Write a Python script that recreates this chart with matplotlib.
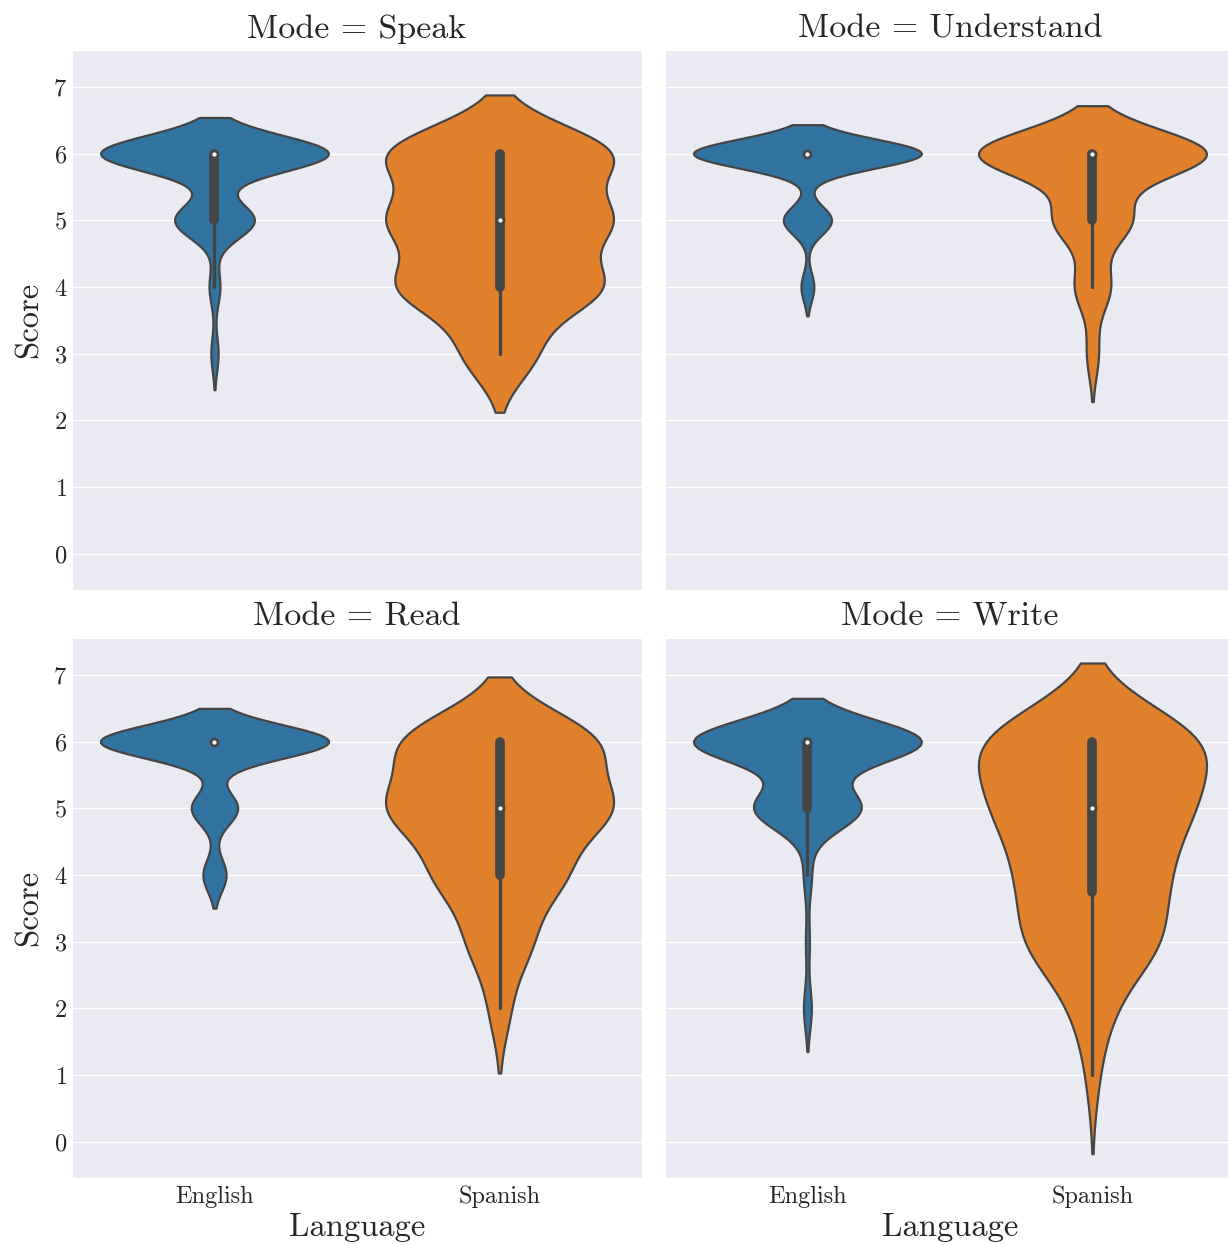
import numpy as np
import pandas as pd
import matplotlib
matplotlib.use("Agg")
from matplotlib import pyplot as plt
from matplotlib import cbook
import seaborn as sns

modes = ["Speak", "Understand", "Read", "Write"]
languages = ["English", "Spanish"]
score_levels = [1, 2, 3, 4, 5, 6]

# answers per score level 1..6
speak_english = [0, 0, 2, 3, 22, 63]
speak_spanish = [0, 0, 6, 17, 18, 19]
understand_english = [0, 0, 0, 4, 15, 71]
understand_spanish = [0, 0, 2, 6, 13, 39]
read_english = [0, 0, 0, 7, 14, 69]
read_spanish = [0, 2, 6, 12, 21, 19]
write_english = [0, 2, 1, 2, 27, 58]
write_spanish = [1, 3, 11, 11, 15, 19]

counts = {
    ("Speak", "English"): speak_english,
    ("Speak", "Spanish"): speak_spanish,
    ("Understand", "English"): understand_english,
    ("Understand", "Spanish"): understand_spanish,
    ("Read", "English"): read_english,
    ("Read", "Spanish"): read_spanish,
    ("Write", "English"): write_english,
    ("Write", "Spanish"): write_spanish,
}

colors = ["#3274a1", "#e1812c"]
edge = "#454545"

sns.set_style("darkgrid")
plt.rcParams["font.family"] = "cmr10"
plt.rcParams["axes.formatter.use_mathtext"] = True
plt.rcParams["mathtext.fontset"] = "cm"


def build_frame(mode):
    rows = []
    for lang in languages:
        values = np.repeat(score_levels, counts[(mode, lang)])
        for v in values:
            rows.append({"Language": lang, "Score": float(v)})
    return pd.DataFrame(rows)


def draw_inner_box(ax, df):
    # box + whiskers + median dot, drawn over the violins
    for i, lang in enumerate(languages):
        obs = df.loc[df["Language"] == lang, "Score"].values
        stats = cbook.boxplot_stats(obs)[0]
        ax.plot([i, i], [stats["whislo"], stats["whishi"]], color=edge,
                linewidth=2.4, solid_capstyle="round", zorder=3)
        if stats["q3"] > stats["q1"]:
            ax.plot([i, i], [stats["q1"], stats["q3"]], color=edge,
                    linewidth=7, solid_capstyle="round", zorder=3)
        ax.scatter([i], [stats["med"]], s=26, color="white", edgecolor=edge,
                   linewidth=2.0, zorder=4)


fig, axes = plt.subplots(2, 2, figsize=(12.28, 12.45), dpi=100,
                         sharex=True, sharey=True)
fig.subplots_adjust(left=0.0586, right=1.0057, top=0.9598, bottom=0.0538,
                    wspace=0.04, hspace=0.089)

for ax, mode in zip(axes.flat, modes):
    df = build_frame(mode)
    sns.violinplot(data=df, x="Language", y="Score", hue="Language",
                   order=languages, hue_order=languages, palette=colors,
                   saturation=1, density_norm="width", cut=2, inner=None,
                   linewidth=1.6, linecolor=edge, legend=False, ax=ax)
    draw_inner_box(ax, df)
    ax.set_title(f"Mode = {mode}", fontsize=24.5, pad=9)
    ax.set_xlim(-0.5, 1.5)
    ax.set_ylim(-0.54, 7.55)
    ax.set_yticks(range(0, 8))
    ax.xaxis.grid(False)
    ax.tick_params(labelsize=17.5, length=0)
    ax.tick_params(axis="x", pad=5.5)
    ax.set_xlabel("")
    ax.set_ylabel("")

for ax in axes[:, 0]:
    ax.set_ylabel("Score", fontsize=23.5, labelpad=7)
for ax in axes[1, :]:
    ax.set_xlabel("Language", fontsize=23.5, labelpad=3.5)

plt.savefig("out.png", dpi=100)
